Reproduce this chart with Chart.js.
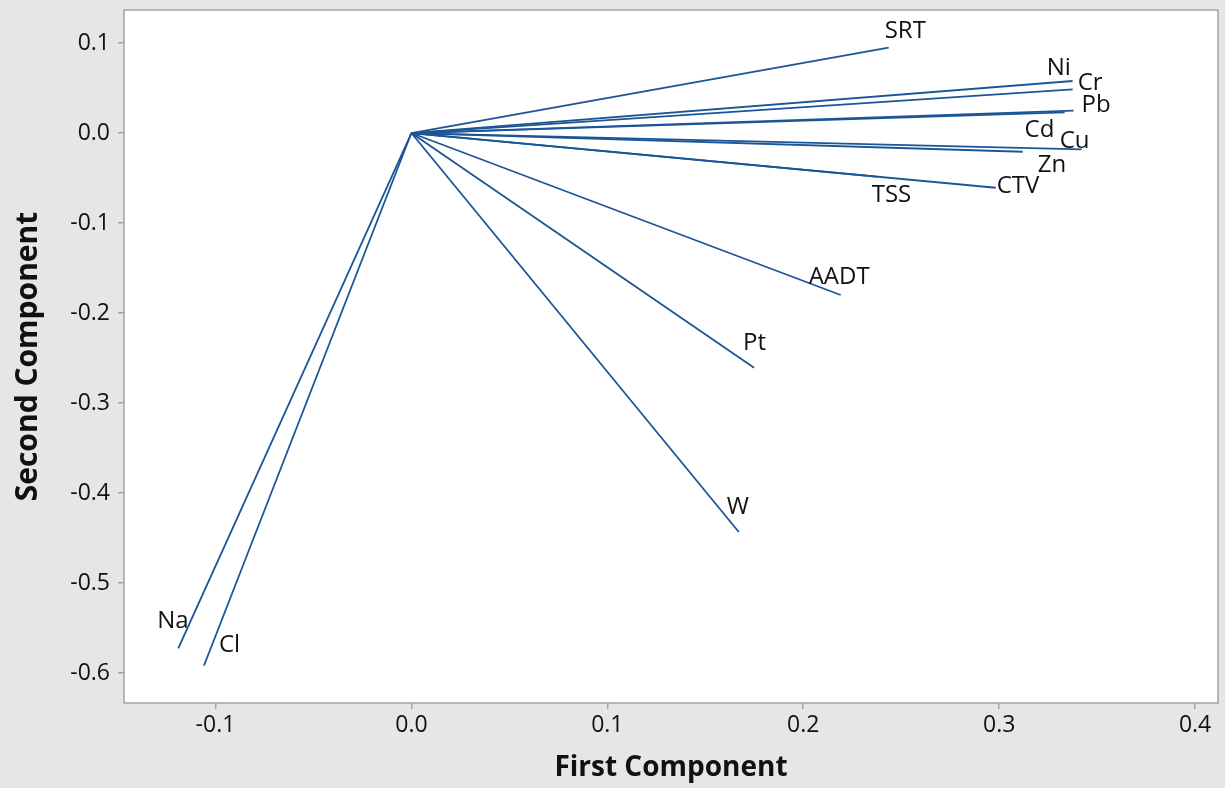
<!DOCTYPE html>
<html>
<head>
<meta charset="utf-8">
<script src="https://cdn.jsdelivr.net/npm/chart.js@4/dist/chart.umd.min.js"></script>
<style>
  html, body { margin: 0; padding: 0; background: #e6e6e6; }
  #c { display: block; }
</style>
</head>
<body>
<canvas id="c" width="1225" height="788"></canvas>
<script>
// ---- Data (loadings) ----
const variables = ['SRT', 'Ni', 'Cr', 'Pb', 'Cd', 'Cu', 'Zn', 'CTV', 'TSS', 'AADT', 'Pt', 'W', 'Na', 'Cl'];
const firstComponent  = [0.2436, 0.3375, 0.3375, 0.3380, 0.3334, 0.3421, 0.3120, 0.2982, 0.2375, 0.2191, 0.1749, 0.1671, -0.1190, -0.1059];
const secondComponent = [0.0948, 0.0578, 0.0486, 0.0248, 0.0230, -0.0181, -0.0208, -0.0608, -0.0484, -0.1800, -0.2608, -0.4433, -0.5726, -0.5919];
const xTickValues = [-0.1, 0.0, 0.1, 0.2, 0.3, 0.4];
const yTickValues = [0.1, 0.0, -0.1, -0.2, -0.3, -0.4, -0.5, -0.6];
const xAxisTitle = 'First Component';
const yAxisTitle = 'Second Component';

// ---- Label placement offsets (pixels, relative to line end; styling only) ----
const labelOffsets = {
  SRT: [-4, -10], Ni: [-26, -6], Cr: [5, 1], Pb: [8, 1], Cd: [-40, 25], Cu: [-22, -1],
  Zn: [15, 20], CTV: [1, 5], TSS: [-5, 25], AADT: [-32, -11], Pt: [-11, -18],
  W: [-12, -18], Na: [-21, -20], Cl: [15, -14]
};

const LINE_COLOR = '#1c5596';
const FONT = "'Open Sans', 'Noto Sans', sans-serif";

const datasets = variables.map((name, i) => ({
  label: name,
  data: [{ x: 0, y: 0 }, { x: firstComponent[i], y: secondComponent[i] }],
  showLine: true,
  borderColor: LINE_COLOR,
  borderWidth: 1.8,
  pointRadius: 0,
  pointHoverRadius: 0,
  fill: false
}));

const bgPlugin = {
  id: 'bgPlugin',
  beforeDraw(chart) {
    const { ctx, chartArea: a } = chart;
    ctx.save();
    ctx.fillStyle = '#e6e6e6';
    ctx.fillRect(0, 0, chart.width, chart.height);
    ctx.fillStyle = '#ffffff';
    ctx.fillRect(a.left, a.top, a.right - a.left, a.bottom - a.top);
    ctx.restore();
  },
  afterDraw(chart) {
    const { ctx, chartArea: a } = chart;
    ctx.save();
    ctx.strokeStyle = '#a3a3a3';
    ctx.lineWidth = 1.5;
    ctx.strokeRect(a.left, a.top, a.right - a.left, a.bottom - a.top);
    ctx.restore();
  }
};

const labelPlugin = {
  id: 'labelPlugin',
  afterDatasetsDraw(chart) {
    const { ctx } = chart;
    ctx.save();
    ctx.font = '24px ' + FONT;
    ctx.fillStyle = '#111111';
    ctx.textAlign = 'left';
    ctx.textBaseline = 'alphabetic';
    chart.data.datasets.forEach((ds, i) => {
      const meta = chart.getDatasetMeta(i);
      const pt = meta.data[1];
      const off = labelOffsets[ds.label] || [0, 0];
      ctx.fillText(ds.label, pt.x + off[0], pt.y + off[1]);
    });
    ctx.restore();
  }
};

function zeroPad(scale) {
  scale.paddingTop = 0; scale.paddingBottom = 0;
  scale.paddingLeft = 0; scale.paddingRight = 0;
}

new Chart(document.getElementById('c'), {
  type: 'scatter',
  data: { datasets },
  options: {
    responsive: false,
    animation: false,
    devicePixelRatio: 1,
    layout: { padding: { left: 0, right: 7, top: 10, bottom: 0 } },
    plugins: { legend: { display: false }, tooltip: { enabled: false } },
    scales: {
      x: {
        type: 'linear',
        min: -0.1467,
        max: 0.4117,
        afterBuildTicks(scale) { scale.ticks = xTickValues.map(v => ({ value: v })); },
        afterFit(scale) { scale.height = 85; zeroPad(scale); },
        border: { display: false },
        grid: { drawOnChartArea: false, drawTicks: true, tickLength: 6, color: '#a3a3a3', lineWidth: 1.5 },
        ticks: {
          padding: 3,
          color: '#111111',
          font: { family: FONT, size: 23 },
          callback: v => v.toFixed(1),
          maxRotation: 0,
          autoSkip: false
        },
        title: {
          display: true,
          text: xAxisTitle,
          color: '#111111',
          font: { family: FONT, size: 28, weight: 'bold' },
          padding: { top: 0, bottom: 3 }
        }
      },
      y: {
        type: 'linear',
        min: -0.6333,
        max: 0.1367,
        afterBuildTicks(scale) { scale.ticks = yTickValues.map(v => ({ value: v })); },
        afterFit(scale) { scale.width = 124; zeroPad(scale); },
        border: { display: false },
        grid: { drawOnChartArea: false, drawTicks: true, tickLength: 6, color: '#a3a3a3', lineWidth: 1.5 },
        ticks: {
          padding: 8,
          color: '#111111',
          font: { family: FONT, size: 23 },
          callback: v => v.toFixed(1),
          autoSkip: false
        },
        title: {
          display: true,
          text: yAxisTitle,
          color: '#111111',
          font: { family: FONT, size: 30, weight: 'bold' },
          padding: { top: 10, bottom: 0 }
        }
      }
    }
  },
  plugins: [bgPlugin, labelPlugin]
});
</script>
</body>
</html>
